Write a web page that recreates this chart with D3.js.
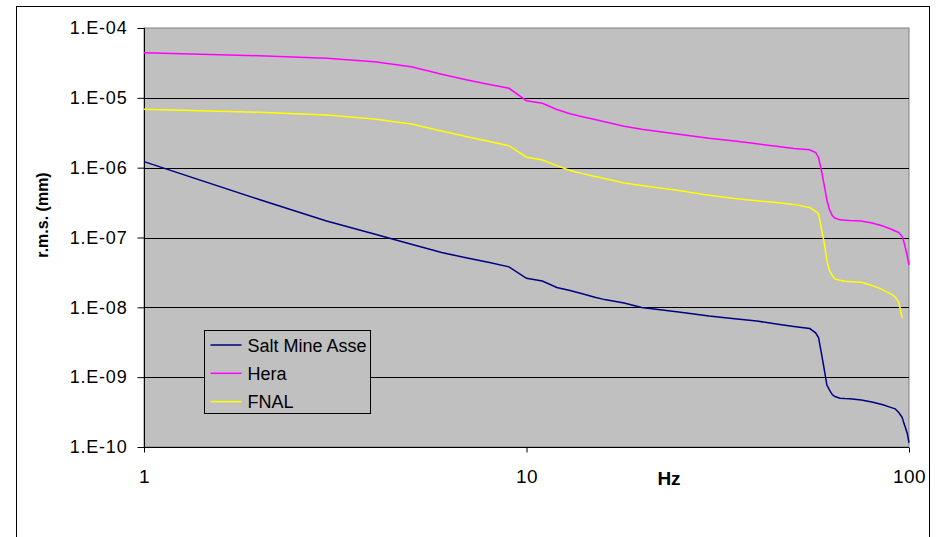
<!DOCTYPE html>
<html>
<head>
<meta charset="utf-8">
<script src="https://cdn.jsdelivr.net/npm/d3@7"></script>
<style>
  body { margin: 0; background: #fff; }
  text { font-family: "Liberation Sans", Arial, sans-serif; }
</style>
</head>
<body>
<div id="chart"></div>
<script>
// frequency points (Hz)
var freq = [1, 2, 3, 4, 5, 6, 7, 8, 9, 10, 11, 12, 13, 14, 15, 16, 18, 20, 25, 30, 35, 40, 45, 50, 55,
	57, 58, 59, 60, 61, 62, 63, 64, 66, 68, 70, 75, 80, 85, 90, 92, 94, 95, 96, 97, 98, 99, 100];

// r.m.s. displacement (mm) for each site
var saltMineAsse = [1.22e-6, 3.50e-7, 1.72e-7, 1.12e-7, 7.99e-8, 6.08e-8, 5.09e-8, 4.38e-8, 3.80e-8, 2.60e-8,
	2.38e-8, 1.92e-8, 1.74e-8, 1.56e-8, 1.41e-8, 1.29e-8, 1.15e-8, 9.94e-9, 8.57e-9, 7.51e-9, 6.87e-9,
	6.37e-9, 5.77e-9, 5.31e-9, 4.97e-9, 4.32e-9, 3.70e-9, 2.22e-9, 1.32e-9, 7.72e-10, 6.54e-10, 5.64e-10,
	5.28e-10, 4.99e-10, 4.93e-10, 4.90e-10, 4.71e-10, 4.41e-10, 4.06e-10, 3.66e-10, 3.52e-10, 3.13e-10,
	2.87e-10, 2.64e-10, 2.18e-10, 1.85e-10, 1.55e-10, 1.15e-10];
var hera = [4.43e-5, 4.01e-5, 3.68e-5, 3.29e-5, 2.79e-5, 2.17e-5, 1.80e-5, 1.55e-5, 1.37e-5, 9.10e-6,
	8.35e-6, 6.81e-6, 5.91e-6, 5.35e-6, 4.93e-6, 4.54e-6, 3.93e-6, 3.54e-6, 3.00e-6, 2.63e-6, 2.41e-6,
	2.20e-6, 2.02e-6, 1.88e-6, 1.80e-6, 1.65e-6, 1.40e-6, 9.26e-7, 5.65e-7, 3.44e-7, 2.48e-7, 2.07e-7,
	1.90e-7, 1.79e-7, 1.77e-7, 1.75e-7, 1.72e-7, 1.61e-7, 1.47e-7, 1.31e-7, 1.24e-7, 1.18e-7, 1.10e-7,
	1.03e-7, 8.62e-8, 6.84e-8, 5.36e-8, 4.04e-8];
var fnal = [6.85e-6, 6.21e-6, 5.68e-6, 4.98e-6, 4.22e-6, 3.35e-6, 2.77e-6, 2.37e-6, 2.06e-6, 1.41e-6,
	1.29e-6, 1.07e-6, 9.11e-7, 8.22e-7, 7.55e-7, 7.00e-7, 6.03e-7, 5.55e-7, 4.71e-7, 4.03e-7, 3.62e-7,
	3.36e-7, 3.16e-7, 2.98e-7, 2.69e-7, 2.36e-7, 2.17e-7, 1.35e-7, 8.51e-8, 4.65e-8, 3.31e-8, 2.90e-8,
	2.54e-8, 2.44e-8, 2.37e-8, 2.34e-8, 2.28e-8, 2.06e-8, 1.81e-8, 1.53e-8, 1.41e-8, 1.18e-8, 9.15e-9,
	7.03e-9, null, null, null, null];

var seriesNames = ["Salt Mine Asse", "Hera", "FNAL"];
var seriesColors = ["#000080", "#ff00ff", "#ffff00"];
var seriesValues = [saltMineAsse, hera, fnal];

var yTicks = [1e-4, 1e-5, 1e-6, 1e-7, 1e-8, 1e-9, 1e-10];
var yTickLabels = ["1.E-04", "1.E-05", "1.E-06", "1.E-07", "1.E-08", "1.E-09", "1.E-10"];
var xTicks = [1, 10, 100];

// dimensions of the plot area inside the 936x537 page
var Margin = {top: 28, right: 27, bottom: 90, left: 144},
	Width = 936 - Margin.left - Margin.right,
	Height = 537 - Margin.top - Margin.bottom;

var svg = d3.select("#chart")
	.append("svg")
	.attr("width", 936)
	.attr("height", 537);

// outer chart frame
svg.append("rect")
	.attr("x", 16.5).attr("y", 6.5)
	.attr("width", 913).attr("height", 560)
	.style("fill", "#fff")
	.style("stroke", "#000")
	.style("stroke-width", 1);

var g = svg.append("g")
	.attr("transform", "translate(" + Margin.left + "," + Margin.top + ")");

var xScale = d3.scaleLog().domain([1, 100]).range([0, Width]);
var yScale = d3.scaleLog().domain([1e-10, 1e-4]).range([Height, 0]);

// grey plot background with grey top/right border
g.append("rect")
	.attr("width", Width).attr("height", Height)
	.style("fill", "#c0c0c0")
	.style("stroke", "#808080")
	.style("stroke-width", 1);

// horizontal gridlines
g.selectAll(".grid")
	.data(yTicks.slice(1, -1))
	.enter()
	.append("line")
	.attr("class", "grid")
	.attr("x1", 0).attr("x2", Width)
	.attr("y1", function(d) { return Math.round(yScale(d)) + 0.5; })
	.attr("y2", function(d) { return Math.round(yScale(d)) + 0.5; })
	.style("stroke", "#000")
	.style("stroke-width", 1);

// y axis
var yAxis = g.append("g")
	.attr("transform", "translate(0.5,0)")
	.call(d3.axisLeft(yScale)
		.tickValues(yTicks)
		.tickSize(7)
		.tickPadding(10)
		.tickFormat(function(d, i) { return yTickLabels[i]; }));
yAxis.select(".domain").attr("stroke", "#000").attr("d", "M0," + Height + "V0");
yAxis.selectAll(".tick line").attr("stroke", "#000");
yAxis.selectAll(".tick text")
	.style("font-size", "18px")
	.style("letter-spacing", "0.8px")
	.attr("fill", "#000");

// x axis
var xAxis = g.append("g")
	.attr("transform", "translate(0," + (Height + 0.5) + ")")
	.call(d3.axisBottom(xScale)
		.tickValues(xTicks)
		.tickSize(5)
		.tickPadding(17)
		.tickFormat(d3.format("d")));
xAxis.select(".domain").attr("stroke", "#000").attr("d", "M0,0H" + Width);
xAxis.selectAll(".tick line").attr("stroke", "#000");
xAxis.selectAll(".tick text")
	.style("font-size", "19px")
	.style("letter-spacing", "0.5px")
	.attr("fill", "#000");

// axis titles
svg.append("text")
	.attr("x", 669).attr("y", 485)
	.style("text-anchor", "middle")
	.style("font-size", "19px")
	.style("font-weight", "bold")
	.text("Hz");

svg.append("text")
	.attr("transform", "translate(48,215) rotate(-90)")
	.style("text-anchor", "middle")
	.style("font-size", "16px")
	.style("font-weight", "bold")
	.text("r.m.s. (mm)");

// the lines
var line = d3.line()
	.defined(function(d) { return d[1] != null; })
	.x(function(d) { return xScale(d[0]); })
	.y(function(d) { return yScale(d[1]); });

seriesValues.forEach(function(values, i) {
	g.append("path")
		.datum(freq.map(function(f, j) { return [f, values[j]]; }))
		.attr("d", line)
		.style("fill", "none")
		.style("stroke", seriesColors[i])
		.style("stroke-width", 1.5);
});

// legend
var legend = svg.append("g").attr("transform", "translate(204.5,330.5)");
legend.append("rect")
	.attr("width", 166).attr("height", 83)
	.style("fill", "#c0c0c0")
	.style("stroke", "#000")
	.style("stroke-width", 1);
var item = legend.selectAll(".item")
	.data(seriesNames)
	.enter()
	.append("g")
	.attr("transform", function(d, i) { return "translate(0," + (14.5 + i * 28.3) + ")"; });
item.append("line")
	.attr("x1", 6).attr("x2", 37)
	.style("stroke", function(d, i) { return seriesColors[i]; })
	.style("stroke-width", 1.5);
item.append("text")
	.attr("x", 43).attr("y", 6.5)
	.style("font-size", "18px")
	.text(function(d) { return d; });
</script>
</body>
</html>
